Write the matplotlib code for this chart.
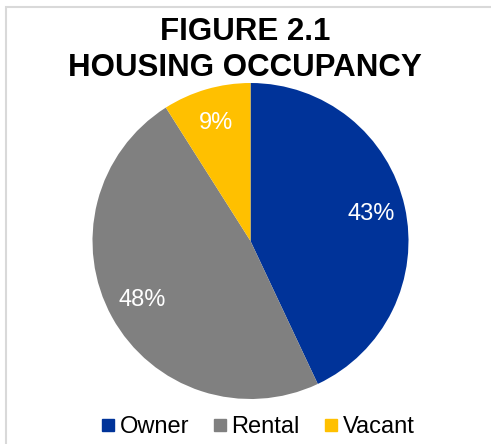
import matplotlib.pyplot as plt
from matplotlib.lines import Line2D
from matplotlib.patches import Rectangle

plt.rcParams['font.family'] = ['Liberation Sans', 'DejaVu Sans']

# chart data
categories = ['Owner', 'Rental', 'Vacant']
shares = [43, 48, 9]
colors = ['#003399', '#808080', '#FFC000']
title_lines = ['FIGURE 2.1', 'HOUSING OCCUPANCY']

W, H = 491, 444
fig = plt.figure(figsize=(W / 100, H / 100), dpi=100)

# light grey chart border (runs off the right and bottom edges)
fig.patches.append(Rectangle((5.5 / W, -0.1), 1.2, 1.1 - 7.5 / H, transform=fig.transFigure,
                             fill=False, edgecolor='#d9d9d9', linewidth=1.5))

# pie area: centre (250.5, 241) px, radius 158 px
ax = fig.add_axes([92.5 / W, (H - 399) / H, 316 / W, 316 / H])
wedges, texts, autotexts = ax.pie(shares, colors=colors, startangle=90, counterclock=False,
                                  autopct='%d%%', pctdistance=0.78, radius=1.0,
                                  textprops=dict(color='white', fontsize=17))
ax.set_xlim(-1, 1)
ax.set_ylim(-1, 1)
ax.set_axis_off()

# title, two lines
fig.text(245 / W, 1 - 40 / H, title_lines[0], ha='center', va='baseline',
         fontsize=22.5, fontweight='bold')
fig.text(245 / W, 1 - 76 / H, title_lines[1], ha='center', va='baseline',
         fontsize=22.5, fontweight='bold')

# legend along the bottom
handles = [Line2D([], [], linestyle='none', marker='s', markersize=9,
                  markerfacecolor=c, markeredgecolor=c) for c in colors]
fig.legend(handles, categories, loc='center', bbox_to_anchor=(257.5 / W, 1 - 427 / H),
           ncol=3, frameon=False, fontsize=17, handlelength=0.6, handletextpad=0.2,
           columnspacing=1.0, borderpad=0)

fig.savefig('out.png', dpi=100)
